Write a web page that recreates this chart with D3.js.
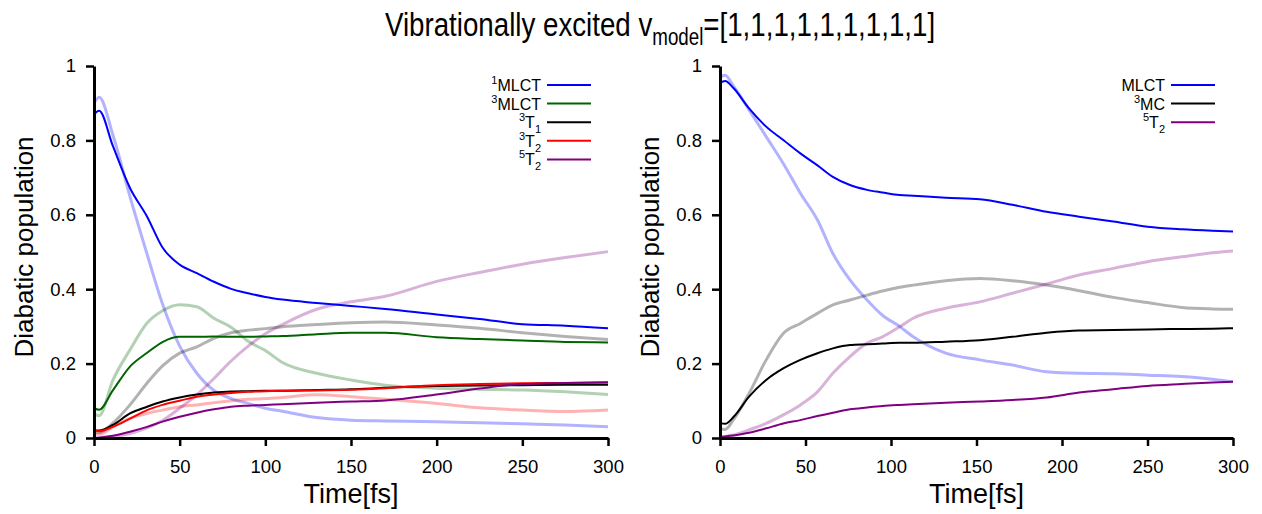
<!DOCTYPE html>
<html>
<head>
<meta charset="utf-8">
<script src="https://cdn.jsdelivr.net/npm/d3@7"></script>
<style>
  body { margin: 0; background: #fff; }
  text { font-family: "Liberation Sans", Arial, sans-serif; fill: #000; }
</style>
</head>
<body>
<svg class="chart" width="1262" height="514"></svg>
<script>
// time grids (fs)
const tLeft = [0, 3, 11, 21, 31, 40, 50, 60, 70, 80, 90, 100, 110, 130, 150, 170, 200, 225, 250, 275, 300]
const tRight = [0, 3, 8, 17, 27, 37, 47, 57, 66, 76, 86, 95, 105, 113, 132, 152, 171, 191, 210, 230, 250, 270, 288, 300]

// left panel, solid curves
const mlct1 = [0.870, 0.880, 0.785, 0.672, 0.595, 0.512, 0.466, 0.443, 0.420, 0.401, 0.389, 0.379, 0.372, 0.363, 0.355, 0.347, 0.332, 0.320, 0.306, 0.302, 0.295]
const mlct3 = [0.080, 0.076, 0.128, 0.192, 0.229, 0.258, 0.272, 0.272, 0.273, 0.272, 0.272, 0.273, 0.274, 0.279, 0.283, 0.283, 0.271, 0.266, 0.262, 0.258, 0.257]
const t1 = [0.020, 0.020, 0.035, 0.066, 0.084, 0.098, 0.109, 0.117, 0.122, 0.125, 0.126, 0.127, 0.127, 0.129, 0.131, 0.135, 0.140, 0.141, 0.142, 0.143, 0.143]
const t2 = [0.020, 0.018, 0.030, 0.052, 0.075, 0.089, 0.100, 0.111, 0.117, 0.121, 0.124, 0.126, 0.127, 0.128, 0.130, 0.134, 0.142, 0.145, 0.147, 0.148, 0.149]
const q2 = [0.000, 0.001, 0.006, 0.017, 0.030, 0.044, 0.057, 0.068, 0.077, 0.084, 0.087, 0.089, 0.091, 0.095, 0.098, 0.101, 0.117, 0.133, 0.145, 0.148, 0.150]
// left panel, faded curves
const mlct1F = [0.900, 0.916, 0.815, 0.649, 0.494, 0.360, 0.247, 0.174, 0.128, 0.106, 0.093, 0.080, 0.072, 0.055, 0.048, 0.046, 0.044, 0.041, 0.038, 0.035, 0.030]
const mlct3F = [0.065, 0.060, 0.155, 0.237, 0.309, 0.342, 0.358, 0.353, 0.322, 0.298, 0.260, 0.235, 0.203, 0.174, 0.156, 0.142, 0.134, 0.131, 0.129, 0.124, 0.117]
const t1F = [0.015, 0.015, 0.040, 0.089, 0.148, 0.194, 0.228, 0.245, 0.268, 0.283, 0.290, 0.294, 0.299, 0.305, 0.310, 0.312, 0.304, 0.295, 0.283, 0.273, 0.265]
const t2F = [0.010, 0.010, 0.030, 0.053, 0.066, 0.075, 0.084, 0.089, 0.095, 0.100, 0.104, 0.106, 0.109, 0.116, 0.111, 0.104, 0.093, 0.081, 0.075, 0.071, 0.075]
const q2F = [0.000, 0.001, 0.004, 0.012, 0.027, 0.047, 0.080, 0.116, 0.160, 0.207, 0.247, 0.280, 0.305, 0.346, 0.366, 0.381, 0.421, 0.445, 0.467, 0.485, 0.501]

// right panel, solid curves
const mlct = [0.955, 0.960, 0.940, 0.886, 0.837, 0.801, 0.765, 0.733, 0.702, 0.680, 0.667, 0.660, 0.653, 0.651, 0.646, 0.642, 0.627, 0.608, 0.595, 0.582, 0.568, 0.561, 0.557, 0.555]
const mc3 = [0.040, 0.038, 0.057, 0.111, 0.156, 0.187, 0.210, 0.228, 0.241, 0.250, 0.252, 0.254, 0.256, 0.256, 0.259, 0.263, 0.272, 0.283, 0.289, 0.290, 0.292, 0.293, 0.294, 0.295]
const q2R = [0.003, 0.004, 0.007, 0.014, 0.026, 0.039, 0.048, 0.059, 0.068, 0.077, 0.082, 0.086, 0.089, 0.091, 0.095, 0.098, 0.102, 0.109, 0.122, 0.131, 0.140, 0.145, 0.149, 0.151]
// right panel, faded curves
const mlctF = [0.970, 0.975, 0.945, 0.882, 0.810, 0.738, 0.658, 0.586, 0.496, 0.425, 0.371, 0.330, 0.300, 0.272, 0.228, 0.210, 0.196, 0.178, 0.174, 0.173, 0.169, 0.165, 0.158, 0.151]
const mc3F = [0.025, 0.023, 0.050, 0.120, 0.210, 0.281, 0.308, 0.335, 0.358, 0.371, 0.384, 0.395, 0.405, 0.411, 0.423, 0.429, 0.423, 0.411, 0.396, 0.378, 0.364, 0.351, 0.347, 0.346]
const q2RF = [0.003, 0.004, 0.008, 0.022, 0.039, 0.062, 0.089, 0.124, 0.174, 0.219, 0.255, 0.272, 0.299, 0.322, 0.349, 0.366, 0.389, 0.414, 0.438, 0.456, 0.474, 0.487, 0.498, 0.503]

const xTicks = [0, 50, 100, 150, 200, 250, 300]
const yTicks = [0, 0.2, 0.4, 0.6, 0.8, 1]

const leftSeries = [
  {sup: '1', base: 'MLCT', sub: '', color: '#0000ff', solid: mlct1, faded: mlct1F},
  {sup: '3', base: 'MLCT', sub: '', color: '#006400', solid: mlct3, faded: mlct3F},
  {sup: '3', base: 'T', sub: '1', color: '#000000', solid: t1, faded: t1F},
  {sup: '3', base: 'T', sub: '2', color: '#ff0000', solid: t2, faded: t2F},
  {sup: '5', base: 'T', sub: '2', color: '#800080', solid: q2, faded: q2F},
]
const rightSeries = [
  {sup: '', base: 'MLCT', sub: '', color: '#0000ff', solid: mlct, faded: mlctF},
  {sup: '3', base: 'MC', sub: '', color: '#000000', solid: mc3, faded: mc3F},
  {sup: '5', base: 'T', sub: '2', color: '#800080', solid: q2R, faded: q2RF},
]

let svg = d3.select("svg.chart")

// the title font is a condensed sans, squeeze the regular one horizontally
let title = svg.append("g")
    .attr("transform", "translate(660, 36) scale(0.815, 1)")
  .append("text")
    .attr("text-anchor", "middle")
    .style("font-size", "34px")
title.append("tspan").text("Vibrationally excited v")
title.append("tspan").attr("dy", 9).style("font-size", "23px").text("model")
title.append("tspan").attr("dy", -9).text("=[1,1,1,1,1,1,1,1,1]")

function panel(x0, x1, time, series, legendX) {
  let x = d3.scaleLinear().domain([0, 300]).range([x0, x1])
  let y = d3.scaleLinear().domain([0, 1]).range([438, 66])

  let g = svg.append("g")

  let line = vals => d3.line()
      .x((d, i) => x(time[i]))
      .y(d => y(d))
      .curve(d3.curveMonotoneX)(vals)

  g.append("g").selectAll("path")
    .data(series)
    .enter().append("path")
      .attr("d", d => line(d.faded))
      .attr("fill", "none")
      .attr("stroke", d => d.color)
      .attr("stroke-opacity", 0.3)
      .attr("stroke-width", 3)

  g.append("g").selectAll("path")
    .data(series)
    .enter().append("path")
      .attr("d", d => line(d.solid))
      .attr("fill", "none")
      .attr("stroke", d => d.color)
      .attr("stroke-width", 2)

  let xAxis = g.append("g")
      .attr("transform", `translate(0, ${y(0)})`)
      .call(d3.axisBottom(x).tickValues(xTicks).tickSize(8).tickSizeOuter(0).tickPadding(14))
  let yAxis = g.append("g")
      .attr("transform", `translate(${x0}, 0)`)
      .call(d3.axisLeft(y).tickValues(yTicks).tickSize(8).tickSizeOuter(0).tickPadding(10)
        .tickFormat(d => (d === 0 || d === 1) ? d : d.toFixed(1)))

  for (let a of [xAxis, yAxis]) {
    a.select(".domain").attr("stroke-width", 3)
    a.selectAll(".tick line").attr("stroke-width", 2.5)
    a.selectAll(".tick text").style("font-size", "18.5px").attr("fill", "#000")
  }
  xAxis.selectAll(".tick text").attr("dy", "0.71em")

  g.append("text")
      .attr("x", (x0 + x1) / 2)
      .attr("y", 503)
      .attr("text-anchor", "middle")
      .style("font-size", "27px")
      .text("Time[fs]")

  g.append("text")
      .attr("transform", `translate(${x0 - 61}, 247) rotate(-90)`)
      .attr("text-anchor", "middle")
      .style("font-size", "26px")
      .text("Diabatic population")

  // legend
  let leg = g.append("g").selectAll("g")
    .data(series)
    .enter().append("g")
      .attr("transform", (d, i) => `translate(${legendX}, ${85 + i * 18.6})`)

  leg.append("line")
      .attr("x1", 6).attr("x2", 50)
      .attr("stroke", d => d.color)
      .attr("stroke-width", 2)

  leg.each(function(d) {
    let t = d3.select(this).append("text")
        .attr("x", 0)
        .attr("y", 6)
        .attr("text-anchor", "end")
        .style("font-size", "16px")
    let shift = 0
    if (d.sup) {
      t.append("tspan").attr("dy", -7).style("font-size", "11px").text(d.sup)
      shift = -7
    }
    t.append("tspan").attr("dy", -shift).text(d.base)
    if (d.sub) {
      t.append("tspan").attr("dy", 5).style("font-size", "11px").text(d.sub)
    }
  })
}

panel(94, 608, tLeft, leftSeries, 541)
panel(720, 1233, tRight, rightSeries, 1165)
</script>
</body>
</html>
